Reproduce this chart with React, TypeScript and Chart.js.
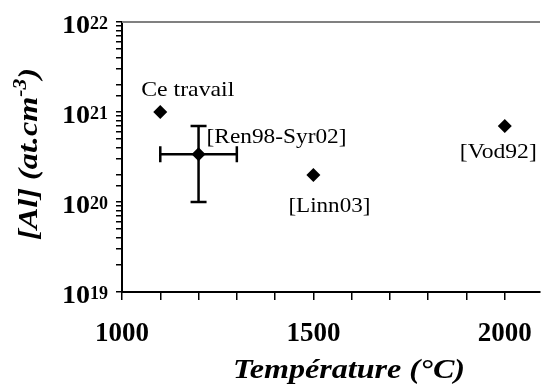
import React, { useEffect, useRef } from "react";
import { Chart, registerables } from "chart.js";

Chart.register(...registerables);

// ---- data ----
const categories = ["Ce travail", "[Ren98-Syr02]", "[Linn03]", "[Vod92]"];
const temperatures = [1100, 1200, 1500, 2000];
const concentrations = [1e21, 3.4e20, 2e20, 7e20];
// error bars (only for [Ren98-Syr02])
const errorIndex = [1];
const errXLow = [1100];
const errXHigh = [1300];
const errYLow = [1e20];
const errYHigh = [7e20];

const xTickValues = [1000, 1100, 1200, 1300, 1400, 1500, 1600, 1700, 1800, 1900, 2000];
const xTickLabels = ["1000", "1500", "2000"];
const yDecades = [19, 20, 21, 22];

const xTitle = "Température (°C)";
const yTitleMain = "[Al] (at.cm";
const yTitleSup = "-3";
const yTitleEnd = ")";

// label placement relative to the point (pixels): left edge offset, baseline offset, target width
const labelOffsets = [
  { dx: -19, dy: -16, w: 93 },
  { dx: 8, dy: -11, w: 140 },
  { dx: -25, dy: 37.5, w: 82 },
  { dx: -45, dy: 32.5, w: 77 },
];

const SERIF = '"Liberation Serif", "Times New Roman", Times, serif';

function drawFitted(
  ctx: CanvasRenderingContext2D,
  text: string,
  x: number,
  y: number,
  font: string,
  align: "left" | "center" | "right",
  targetW?: number
) {
  ctx.font = font;
  const w = ctx.measureText(text).width;
  const sx = targetW ? targetW / w : 1;
  const tw = w * sx;
  const left = align === "left" ? x : align === "center" ? x - tw / 2 : x - tw;
  ctx.save();
  ctx.translate(left, y);
  ctx.scale(sx, 1);
  ctx.textAlign = "left";
  ctx.textBaseline = "alphabetic";
  ctx.fillText(text, 0, 0);
  ctx.restore();
}

const customPlugin = {
  id: "customDecor",
  beforeDatasetsDraw(chart: any) {
    const ctx: CanvasRenderingContext2D = chart.ctx;
    const xs = chart.scales.x;
    const ys = chart.scales.y;
    ctx.save();
    ctx.strokeStyle = "#000";
    ctx.lineWidth = 2.5;
    errorIndex.forEach((idx, k) => {
      const cx = xs.getPixelForValue(temperatures[idx]);
      const cy = ys.getPixelForValue(concentrations[idx]);
      const x1 = xs.getPixelForValue(errXLow[k]);
      const x2 = xs.getPixelForValue(errXHigh[k]);
      const y1 = ys.getPixelForValue(errYHigh[k]);
      const y2 = ys.getPixelForValue(errYLow[k]);
      const cap = 8;
      ctx.beginPath();
      ctx.moveTo(x1, cy);
      ctx.lineTo(x2, cy);
      ctx.moveTo(x1, cy - cap);
      ctx.lineTo(x1, cy + cap);
      ctx.moveTo(x2, cy - cap);
      ctx.lineTo(x2, cy + cap);
      ctx.moveTo(cx, y1);
      ctx.lineTo(cx, y2);
      ctx.moveTo(cx - cap, y1);
      ctx.lineTo(cx + cap, y1);
      ctx.moveTo(cx - cap, y2);
      ctx.lineTo(cx + cap, y2);
      ctx.stroke();
    });
    ctx.restore();
  },
  afterDraw(chart: any) {
    const ctx: CanvasRenderingContext2D = chart.ctx;
    const xs = chart.scales.x;
    const ys = chart.scales.y;
    const area = chart.chartArea;
    ctx.save();
    // top border
    ctx.strokeStyle = "#808080";
    ctx.lineWidth = 2;
    ctx.beginPath();
    ctx.moveTo(area.left, area.top);
    ctx.lineTo(area.right, area.top);
    ctx.stroke();

    ctx.fillStyle = "#000";
    // y tick labels 10^n
    yDecades.forEach((n) => {
      const y = ys.getPixelForValue(Math.pow(10, n));
      const right = 108;
      ctx.font = `bold 18px ${SERIF}`;
      const ew = ctx.measureText(String(n)).width;
      drawFitted(ctx, String(n), right - ew, y + 7, `bold 18px ${SERIF}`, "left");
      drawFitted(ctx, "10", right - ew, y + 10.5, `bold 26px ${SERIF}`, "right", 28);
    });

    // point labels
    categories.forEach((c, i) => {
      const px = xs.getPixelForValue(temperatures[i]);
      const py = ys.getPixelForValue(concentrations[i]);
      const o = labelOffsets[i];
      drawFitted(ctx, c, px + o.dx, py + o.dy, `22px ${SERIF}`, "left", o.w);
    });

    // x title
    drawFitted(ctx, xTitle, 349, 378, `bold italic 28px ${SERIF}`, "center", 232);

    // y title rotated
    ctx.save();
    ctx.translate(37, 154);
    ctx.rotate(-Math.PI / 2);
    const fMain = `bold italic 27px ${SERIF}`;
    const fSup = `bold italic 18px ${SERIF}`;
    ctx.font = fMain;
    const w1 = ctx.measureText(yTitleMain).width;
    const w3 = ctx.measureText(yTitleEnd).width;
    ctx.font = fSup;
    const w2 = ctx.measureText(yTitleSup).width;
    const total = w1 + w2 + w3;
    const sx = 172 / total;
    ctx.scale(sx, 1);
    let cur = -total / 2;
    ctx.textBaseline = "alphabetic";
    ctx.textAlign = "left";
    ctx.font = fMain;
    ctx.fillText(yTitleMain, cur, 0);
    cur += w1;
    ctx.font = fSup;
    ctx.fillText(yTitleSup, cur, -11);
    cur += w2;
    ctx.font = fMain;
    ctx.fillText(yTitleEnd, cur, 0);
    ctx.restore();

    ctx.restore();
  },
};

export default function App() {
  const canvasRef = useRef<HTMLCanvasElement | null>(null);

  useEffect(() => {
    if (!canvasRef.current) return;
    const chart = new Chart(canvasRef.current, {
      type: "scatter",
      data: {
        datasets: [
          {
            data: temperatures.map((t, i) => ({ x: t, y: concentrations[i] })),
            pointStyle: "rectRot",
            pointRadius: 7,
            pointHoverRadius: 7,
            backgroundColor: "#000",
            borderColor: "#000",
            borderWidth: 0,
          },
        ],
      },
      options: {
        animation: false,
        responsive: false,
        devicePixelRatio: 1,
        layout: { padding: { left: 0, top: 22, right: -6, bottom: 0 } },
        plugins: {
          legend: { display: false },
          tooltip: { enabled: false },
        },
        scales: {
          x: {
            type: "linear",
            min: 1000,
            max: 2092,
            afterBuildTicks: (scale: any) => {
              scale.ticks = xTickValues.map((v) => ({ value: v }));
            },
            afterFit: (scale: any) => {
              scale.height = 95;
              scale.paddingLeft = 0;
              scale.paddingRight = 0;
            },
            ticks: {
              includeBounds: false,
              autoSkip: false,
              maxRotation: 0,
              minRotation: 0,
              padding: 18,
              color: "#000",
              font: { family: SERIF, size: 27, weight: "bold" },
              callback: (v: any) => {
                const s = String(v);
                return xTickLabels.includes(s) ? s : "";
              },
            },
            grid: {
              drawOnChartArea: false,
              drawTicks: true,
              tickLength: 8,
              color: "#000",
              lineWidth: 1.5,
            },
            border: { display: true, color: "#000", width: 2 },
          },
          y: {
            type: "logarithmic",
            min: 1e19,
            max: 1e22,
            afterFit: (scale: any) => {
              scale.width = 122;
              scale.paddingTop = 0;
              scale.paddingBottom = 0;
            },
            ticks: { display: false, autoSkip: false },
            grid: {
              drawOnChartArea: false,
              drawTicks: true,
              tickLength: 6,
              color: "#000",
              lineWidth: 1.5,
            },
            border: { display: true, color: "#000", width: 2 },
          },
        },
      },
      plugins: [customPlugin],
    } as any);
    return () => chart.destroy();
  }, []);

  return (
    <div style={{ position: "fixed", left: 0, top: 0, width: 547, height: 387, background: "#fff" }}>
      <canvas ref={canvasRef} width={547} height={387} style={{ width: 547, height: 387, display: "block" }} />
    </div>
  );
}
